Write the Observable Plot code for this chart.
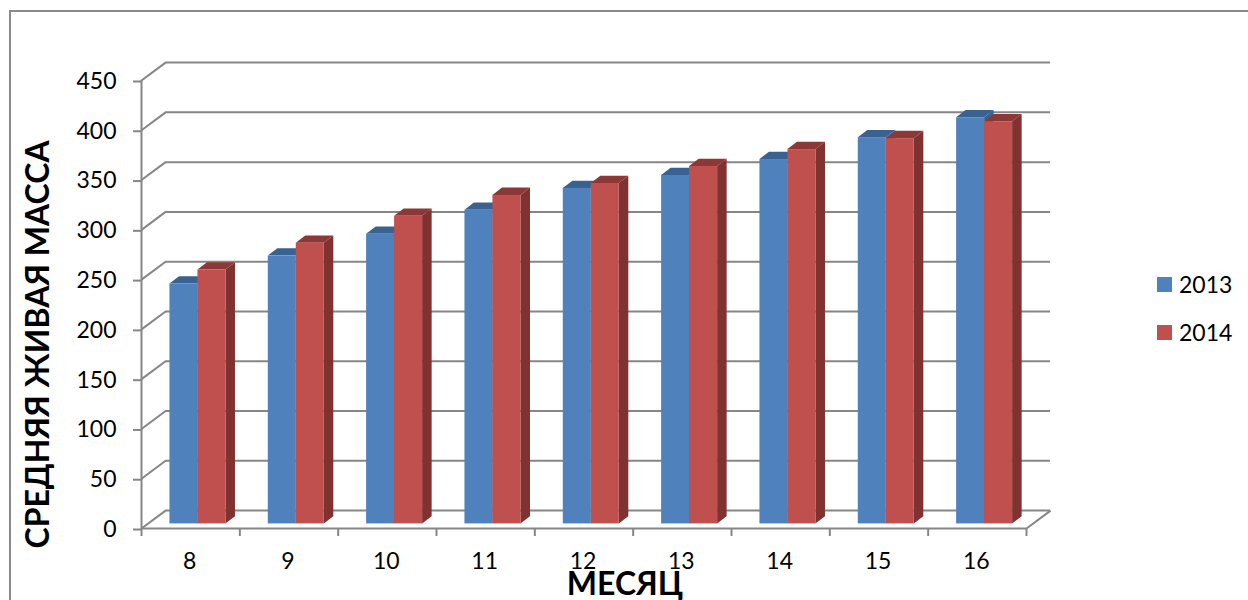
<!DOCTYPE html>
<html><head><meta charset="utf-8">
<script src="https://cdn.jsdelivr.net/npm/d3@7"></script>
<script src="https://cdn.jsdelivr.net/npm/@observablehq/plot@0.6"></script>
<style>
html,body{margin:0;padding:0;background:#fff;width:1248px;height:600px;overflow:hidden;font-family:Lato,sans-serif}
#frame{position:absolute;left:9px;top:10px;right:-4px;bottom:-4px;border:2px solid #8a8a8a;box-sizing:border-box}
#chart{position:absolute;left:0;top:0}
.lg{position:absolute;left:1157px;display:flex;align-items:center;font-size:23px;color:#000;line-height:15px}
.lg i{display:block;width:15px;height:15px;margin-right:7px}
</style></head>
<body>
<div id="frame"></div>
<div id="chart"></div>
<div id="legend"></div>
<script>
const months = [8, 9, 10, 11, 12, 13, 14, 15, 16];
const values2013 = [241, 269, 291, 315, 337, 350, 366, 388, 408];
const values2014 = [255, 282, 309, 330, 342, 359, 376, 387, 404];
const years = ["2013", "2014"];
const yTicks = [0, 50, 100, 150, 200, 250, 300, 350, 400, 450];
const colors = {"2013": "#4F81BD", "2014": "#C0504D"};
const sideColors = {"2013": "#3A6291", "2014": "#7F3230"};
const topColors = {"2013": "#3A6291", "2014": "#8C3836"};

const xDomain = [7.5, 16.5];
const boundaries = d3.range(10).map(i => 7.5 + i);
const gridStroke = "#868686";
// depth of the 3-D box, in scale units
const wallDx = 0.245, wallDy = 18;
const barW = 0.2847, barDx = 0.097, barDy = 7.3, barShiftX = 0.074, barShiftY = 4.6;

const rows = months.flatMap((m, i) => [
  {m, i, year: "2013", value: values2013[i], x1: m + barShiftX - barW, x2: m + barShiftX},
  {m, i, year: "2014", value: values2014[i], x1: m + barShiftX, x2: m + barShiftX + barW}
]);
const side = rows.flatMap(d => [
  {key: d.year + d.m, year: d.year, x: d.x2, y1: barShiftY, y2: d.value + barShiftY},
  {key: d.year + d.m, year: d.year, x: d.x2 + barDx, y1: barShiftY + barDy, y2: d.value + barShiftY + barDy}
]);
const top_ = rows.flatMap(d => [
  {key: d.year + d.m, year: d.year, y: d.value + barShiftY, x1: d.x1, x2: d.x2},
  {key: d.year + d.m, year: d.year, y: d.value + barShiftY + barDy, x1: d.x1 + barDx, x2: d.x2 + barDx}
]);
const by = y => a => a.filter(d => d.year === y);

const yearMarks = years.flatMap(y => [
  Plot.areaX(by(y)(top_), {y: "y", x1: "x1", x2: "x2", z: "key", fill: topColors[y]}),
  Plot.areaY(by(y)(side), {x: "x", y1: "y1", y2: "y2", z: "key", fill: sideColors[y]}),
  Plot.rect(by(y)(rows), {x1: "x1", x2: "x2", y1: barShiftY, y2: d => d.value + barShiftY, fill: colors[y]})
]);

const plot = Plot.plot({
  width: 1248, height: 600,
  marginLeft: 141, marginRight: 222, marginTop: 80, marginBottom: 72,
  style: {background: "transparent", fontFamily: "Lato, sans-serif", color: "#000", overflow: "visible"},
  x: {type: "linear", domain: xDomain},
  y: {type: "linear", domain: [0, 450]},
  marks: [
    // back wall gridlines and side wall slants
    Plot.ruleY(yTicks, {y: d => d + wallDy, x1: xDomain[0] + wallDx, x2: xDomain[1] + wallDx, stroke: gridStroke, strokeWidth: 2}),
    Plot.link(yTicks, {x1: xDomain[0], x2: xDomain[0] + wallDx, y1: d => d, y2: d => d + wallDy, stroke: gridStroke, strokeWidth: 2}),
    // floor
    Plot.link([0], {x1: xDomain[1], x2: xDomain[1] + wallDx, y1: 0, y2: wallDy, stroke: gridStroke, strokeWidth: 2}),
    ...yearMarks,
    // axes
    Plot.ruleY([0], {stroke: gridStroke, strokeWidth: 2}),
    Plot.ruleX([xDomain[0]], {stroke: gridStroke, strokeWidth: 2}),
    Plot.axisY({ticks: yTicks, tickSize: 8, tickPadding: 17, fontSize: 23, stroke: gridStroke, strokeWidth: 2, strokeOpacity: 1, label: null, color: "#000", dy: 1}),
    Plot.axisX({ticks: boundaries, tickSize: 8, tickFormat: () => "", stroke: gridStroke, strokeWidth: 2, strokeOpacity: 1, label: null}),
    Plot.axisX({ticks: months, tickSize: 0, tickPadding: 25, dy: -1, dx: -1, fontSize: 23, label: null, tickFormat: d => String(d)}),
    Plot.text(["СРЕДНЯЯ ЖИВАЯ МАССА"], {frameAnchor: "left", rotate: -90, dx: -103, dy: 40, fontSize: 32, fontWeight: "bold", fill: "#000", textAnchor: "middle"}),
    Plot.text(["МЕСЯЦ"], {frameAnchor: "bottom", dy: 66, dx: 41, fontSize: 32, fontWeight: "bold", fill: "#000"})
  ]
});
document.getElementById("chart").appendChild(plot);

const legend = document.getElementById("legend");
years.forEach((y, i) => {
  const row = document.createElement("div");
  row.className = "lg";
  row.style.top = (277 + i * 48) + "px";
  row.innerHTML = `<i style="background:${colors[y]}"></i><span>${y}</span>`;
  legend.appendChild(row);
});
</script>
</body></html>
